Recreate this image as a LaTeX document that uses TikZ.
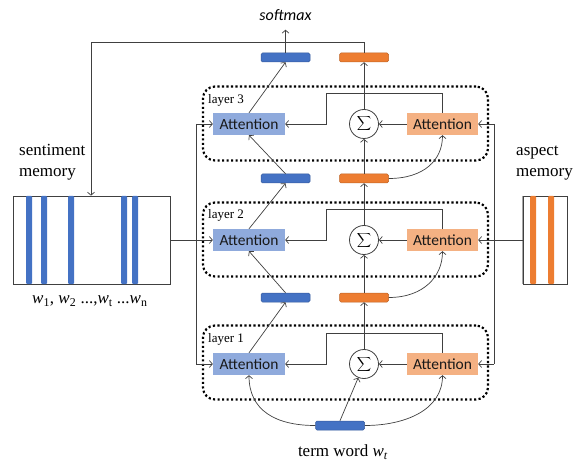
\documentclass[tikz,border=0pt]{standalone}
\usepackage{fontspec}
\setmainfont{Liberation Serif}
\newfontfamily\carlito{Carlito}
\usetikzlibrary{arrows.meta,calc}
\definecolor{lblue}{HTML}{8FAADC}
\definecolor{lorange}{HTML}{F4B183}
\definecolor{dblue}{HTML}{4472C4}
\definecolor{dorange}{HTML}{ED7D31}
\definecolor{lc}{HTML}{404040}
\begin{document}
\begin{tikzpicture}[x=1pt,y=-1pt,
  conn/.style={draw=lc, line width=0.7pt},
  arr/.style={conn, -{Straight Barb[length=3pt,width=7pt]}},
  attb/.style={fill=lblue, minimum width=72pt, minimum height=22pt, inner sep=0pt, font=\carlito\fontsize{15.5}{18}\selectfont, text=black!90},
  atto/.style={attb, fill=lorange, minimum width=71pt},
  sumc/.style={circle, draw=lc, line width=0.8pt, fill=white, minimum size=29pt, inner sep=0pt, font=\fontsize{15}{15}\selectfont},
  bbar/.style={rounded corners=1.5pt, fill=dblue, draw=dblue!80!black, line width=0.5pt, minimum width=49pt, minimum height=9pt, inner sep=0pt},
  obar/.style={bbar, fill=dorange, draw=dorange!80!black},
  layerbox/.style={draw=black, line width=2.2pt, dash pattern=on 2.2pt off 2.3pt, rounded corners=12pt, minimum width=285pt, minimum height=74pt, inner sep=0pt},
  lbl/.style={font=\fontsize{13}{15}\selectfont, anchor=west, inner sep=0pt},
  memtxt/.style={font=\fontsize{17}{21}\selectfont, align=left, anchor=west, inner sep=0pt},
  membox/.style={draw=lc, line width=0.7pt, minimum height=88pt, inner sep=0pt},
]
\useasboundingbox (0,0) rectangle (573,465);

% layer boxes
\node[layerbox] (L3) at (345.5,123.5) {};
\node[layerbox] (L2) at (345.5,239.5) {};
\node[layerbox] (L1) at (345.5,362.5) {};
\node[lbl] (l3) at (208,100) {layer 3};
\node[lbl] (l2) at (208,215) {layer 2};
\node[lbl] (l1) at (208,339) {layer 1};

% attention / sum nodes
\foreach \k/\yy in {3/124,2/240,1/364}{
  \node[attb] (a\k) at (249,\yy) {Attention};
  \node[sumc] (s\k) at (364,\yy) {$\displaystyle\sum$};
  \node[atto] (o\k) at (442.5,\yy) {Attention};
}

% bars
\node[bbar] (bb3) at (285.5,57.5) {};
\node[obar] (ob3) at (364,57.5) {};
\node[bbar] (bb2) at (285.5,178.5) {};
\node[obar] (ob2) at (364,178.5) {};
\node[bbar] (bb1) at (285.5,297.5) {};
\node[obar] (ob1) at (364,297.5) {};
\node[bbar] (tb) at (340,425.5) {};

% texts
\node[font=\carlito\itshape\fontsize{16}{18}\selectfont] (soft) at (285.5,15) {softmax};
\node[font=\fontsize{17}{20}\selectfont] (term) at (343,452) {term word \textit{w}\textsubscript{\textit{t}}};
\node[memtxt] (smt) at (19,162) {sentiment\\memory};
\node[memtxt] (amt) at (516,163) {aspect\\memory};
\node[font=\fontsize{17}{20}\selectfont, anchor=west, inner sep=0pt] (wl) at (32,301)
  {\textit{w}\textsubscript{1}, \textit{w}\textsubscript{2} ...,\textit{w}\textsubscript{t} ...\textit{w}\textsubscript{n}};

% memories
\node[membox, minimum width=157pt] (smem) at (91.5,240) {};
\foreach \xx in {29,44,71,124,135}{
  \fill[dblue, rounded corners=1pt] (\xx-3,196) rectangle (\xx+3,284);
}
\node[membox, minimum width=44pt] (amem) at (545,240) {};
\draw[gray!70, line width=1.5pt] (amem.north west) -- (amem.south west);
\foreach \xx in {533,551}{
  \fill[dorange, rounded corners=1pt] (\xx-3,196) rectangle (\xx+3,284);
}

% within-layer connectors
\foreach \k in {3,2,1}{
  \draw[arr] (o\k) -- (s\k);
  \draw[arr] (o\k.north) |- ($(o\k.north)+(-116,-19)$) |- (a\k.east);
}
% upward connectors
\draw[arr] (a3.north) -- (bb3.south);
\draw[arr] (s3) -- (ob3.south);
\draw[arr] (a2.north) -- (bb2.south);
\draw[arr] (s2) -- (ob2.south);
\draw[arr] (a1.north) -- (bb1.south);
\draw[arr] (s1) -- (ob1.south);
\draw[arr] (bb2.north) -- (a3.south);
\draw[arr] (ob2.north) -- (s3.south);
\draw[arr] (ob2.east) .. controls ($(ob2.east)+(35,0)$) and ($(o3.south)+(0,25)$) .. (o3.south);
\draw[arr] (bb1.north) -- (a2.south);
\draw[arr] (ob1.north) -- (s2.south);
\draw[arr] (ob1.east) .. controls ($(ob1.east)+(35,0)$) and ($(o2.south)+(0,25)$) .. (o2.south);
% term word
\draw[arr] (tb.north) -- (s1);
\draw[arr] (tb.west) .. controls ($(tb.west)+(-40,0)$) and ($(a1.south)+(0,35)$) .. (a1.south);
\draw[arr] (tb.east) .. controls ($(tb.east)+(40,0)$) and ($(o1.south)+(0,35)$) .. (o1.south);
% softmax
\coordinate (sm) at ($(bb3.north)+(0,-23)$);
\draw[arr] (bb3.north) -- (sm);
% feedback to sentiment memory
\coordinate (tl) at (91,42);
\draw[arr] (ob3.north) |- (tl) -- (tl |- smem.north);

% left rail
\coordinate (lv3) at (196,124);
\coordinate (lv1) at (196,364);
\draw[arr] (smem.east) -- (a2.west);
\draw[conn] (lv3) -- (lv1);
\draw[arr] (lv3) -- (a3.west);
\draw[arr] (lv1) -- (a1.west);
% right rail
\coordinate (rv3) at (494,124);
\coordinate (rv1) at (494,364);
\draw[arr] (amem.west) -- (o2.east);
\draw[conn] (rv3) -- (rv1);
\draw[arr] (rv3) -- (o3.east);
\draw[arr] (rv1) -- (o1.east);
\end{tikzpicture}
\end{document}
